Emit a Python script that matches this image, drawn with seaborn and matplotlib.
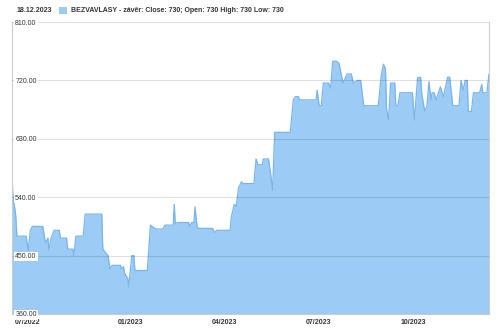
import matplotlib
matplotlib.use("Agg")
import matplotlib.pyplot as plt
import matplotlib.dates as mdates
import matplotlib.transforms as mtransforms
import seaborn as sns
import pandas as pd

# ---------------- data ----------------
dates = [
    "2022-09-08", "2022-09-09", "2022-09-10", "2022-09-11", "2022-09-12", "2022-09-13",
    "2022-09-22", "2022-09-24", "2022-09-26", "2022-09-28", "2022-10-08", "2022-10-10",
    "2022-10-11", "2022-10-13", "2022-10-14", "2022-10-16", "2022-10-19", "2022-10-24",
    "2022-10-25", "2022-10-31", "2022-11-01", "2022-11-06", "2022-11-07", "2022-11-09",
    "2022-11-16", "2022-11-18", "2022-12-04", "2022-12-05", "2022-12-10", "2022-12-12",
    "2022-12-14", "2022-12-22", "2022-12-23", "2022-12-25", "2022-12-26", "2022-12-29",
    "2022-12-30", "2023-01-02", "2023-01-04", "2023-01-05", "2023-01-17", "2023-01-20",
    "2023-01-25", "2023-02-01", "2023-02-03", "2023-02-11", "2023-02-12", "2023-02-13",
    "2023-02-15", "2023-02-26", "2023-02-27", "2023-03-01", "2023-03-03", "2023-03-04",
    "2023-03-06", "2023-03-07", "2023-03-21", "2023-03-23", "2023-03-25", "2023-04-07",
    "2023-04-08", "2023-04-11", "2023-04-13", "2023-04-15", "2023-04-18", "2023-04-19",
    "2023-04-30", "2023-05-02", "2023-05-04", "2023-05-08", "2023-05-09", "2023-05-14",
    "2023-05-16", "2023-05-18", "2023-05-20", "2023-06-04", "2023-06-07", "2023-06-09",
    "2023-06-12", "2023-06-13", "2023-06-29", "2023-06-30", "2023-07-02", "2023-07-04",
    "2023-07-06", "2023-07-11", "2023-07-13", "2023-07-15", "2023-07-18", "2023-07-21",
    "2023-07-25", "2023-07-29", "2023-08-02", "2023-08-04", "2023-08-08", "2023-08-11",
    "2023-08-14", "2023-08-28", "2023-08-31", "2023-09-02", "2023-09-04", "2023-09-05",
    "2023-09-07", "2023-09-09", "2023-09-13", "2023-09-14", "2023-09-16", "2023-09-18",
    "2023-09-30", "2023-10-02", "2023-10-05", "2023-10-08", "2023-10-09", "2023-10-12",
    "2023-10-14", "2023-10-16", "2023-10-18", "2023-10-19", "2023-10-21", "2023-10-23",
    "2023-10-27", "2023-10-30", "2023-11-03", "2023-11-05", "2023-11-08", "2023-11-14",
    "2023-11-16", "2023-11-18", "2023-11-20", "2023-11-22", "2023-11-23", "2023-11-26",
    "2023-11-28", "2023-12-04", "2023-12-06", "2023-12-07", "2023-12-11", "2023-12-13",
]
close = [
    593, 546, 533, 523, 510, 480,
    480, 458, 489, 495, 495, 475,
    470, 477, 459, 477, 489, 489,
    477, 477, 460, 460, 450, 480,
    480, 514, 514, 460, 450, 429,
    435, 435, 429, 433, 423, 415,
    402, 450, 450, 427, 427, 497,
    491, 491, 497, 497, 529, 499,
    501, 501, 495, 501, 501, 525,
    495, 492, 492, 485, 489, 489,
    509, 529, 526, 554, 564, 561,
    561, 599, 590, 590, 599, 599,
    577, 551, 640, 640, 690, 695,
    695, 690, 690, 705, 681, 681,
    716, 716, 708, 749, 750, 747,
    716, 730, 730, 716, 720, 720,
    681, 681, 728, 745, 738, 677,
    659, 716, 716, 681, 681, 701,
    701, 659, 724, 725, 700, 672,
    680, 718, 690, 701, 701, 690,
    710, 695, 725, 725, 681, 681,
    720, 705, 720, 720, 672, 672,
    701, 701, 714, 701, 701, 730,
]
y_ticks = [360, 450, 540, 630, 720, 810]
x_tick_dates = ["2022-09-08", "2023-01-01", "2023-04-01", "2023-07-01", "2023-10-01"]
x_tick_labels = ["07/2022", "01/2023", "04/2023", "07/2023", "10/2023"]
grid_dates = ["2023-01-01", "2023-07-01"]
title_date = "18.12.2023"
legend_label = "BEZVAVLASY - závěr: Close: 730; Open: 730 High: 730 Low: 730"

# ---------------- style ----------------
FILL = "#9ccbf5"
LINE = "#78b5ec"
TXT = "#333333"

sns.set_theme(style="white")
plt.rcParams["font.family"] = ["Liberation Sans", "DejaVu Sans"]

df = pd.DataFrame({"date": pd.to_datetime(dates), "close": close})

fig = plt.figure(figsize=(5, 3.29), dpi=100)
ax = fig.add_axes([0.0234, 0.0456, 0.9546, 0.8874])

area = ax.fill_between(df["date"], df["close"], y_ticks[0], color=FILL,
                       linewidth=0, zorder=1, label=legend_label)
sns.lineplot(data=df, x="date", y="close", ax=ax, color=LINE, linewidth=0.9,
             zorder=2, legend=False)

ax.set_xlim(df["date"].iloc[0], df["date"].iloc[-1])
ax.set_ylim(y_ticks[0], y_ticks[-1])
ax.set_xlabel("")
ax.set_ylabel("")

# y axis: labels inside the plot with white boxes
ax.set_yticks(y_ticks)
ax.set_yticklabels([f"{v:.2f}" for v in y_ticks])
ax.tick_params(axis="y", direction="in", length=0, pad=-2.5, labelsize=5,
               labelcolor=TXT)
for lbl in ax.get_yticklabels():
    lbl.set_horizontalalignment("left")
    lbl.set_bbox(dict(facecolor="white", edgecolor="none", pad=0.8))
ax.yaxis.grid(True, color="black", alpha=0.12, linewidth=0.8)

# x axis
xt = mdates.date2num(pd.to_datetime(x_tick_dates))
ax.set_xticks(xt)
ax.set_xticklabels(x_tick_labels)
ax.set_xticks(mdates.date2num(pd.to_datetime(grid_dates)), minor=True)
ax.tick_params(axis="x", which="both", length=0, pad=3.5, labelsize=5,
               labelcolor=TXT)
for lbl in ax.get_xticklabels():
    lbl.set_fontweight("bold")
first = ax.get_xticklabels()[0]
first.set_horizontalalignment("left")
first.set_transform(first.get_transform() +
                    mtransforms.ScaledTranslation(3 / 100, 0, fig.dpi_scale_trans))
ax.xaxis.grid(True, which="minor", color="black", alpha=0.15, linewidth=0.8)
ax.xaxis.grid(False, which="major")
ax.set_axisbelow(False)

for side in ["left", "right", "bottom"]:
    ax.spines[side].set_color("#cccccc")
    ax.spines[side].set_linewidth(0.8)
ax.spines["top"].set_visible(False)

# header
fig.text(17 / 500, 1 - 10.5 / 329, title_date, fontsize=5, fontweight="bold",
         color=TXT, va="center", ha="left")
fig.legend(handles=[area], labels=[legend_label], loc="center left",
           bbox_to_anchor=(59 / 500, 1 - 10.5 / 329), frameon=False,
           prop={"weight": "bold", "size": 5}, labelcolor=TXT,
           handlelength=1.2, handleheight=1.2, handletextpad=0.5,
           borderpad=0, borderaxespad=0)

fig.savefig("out.png", dpi=100)
